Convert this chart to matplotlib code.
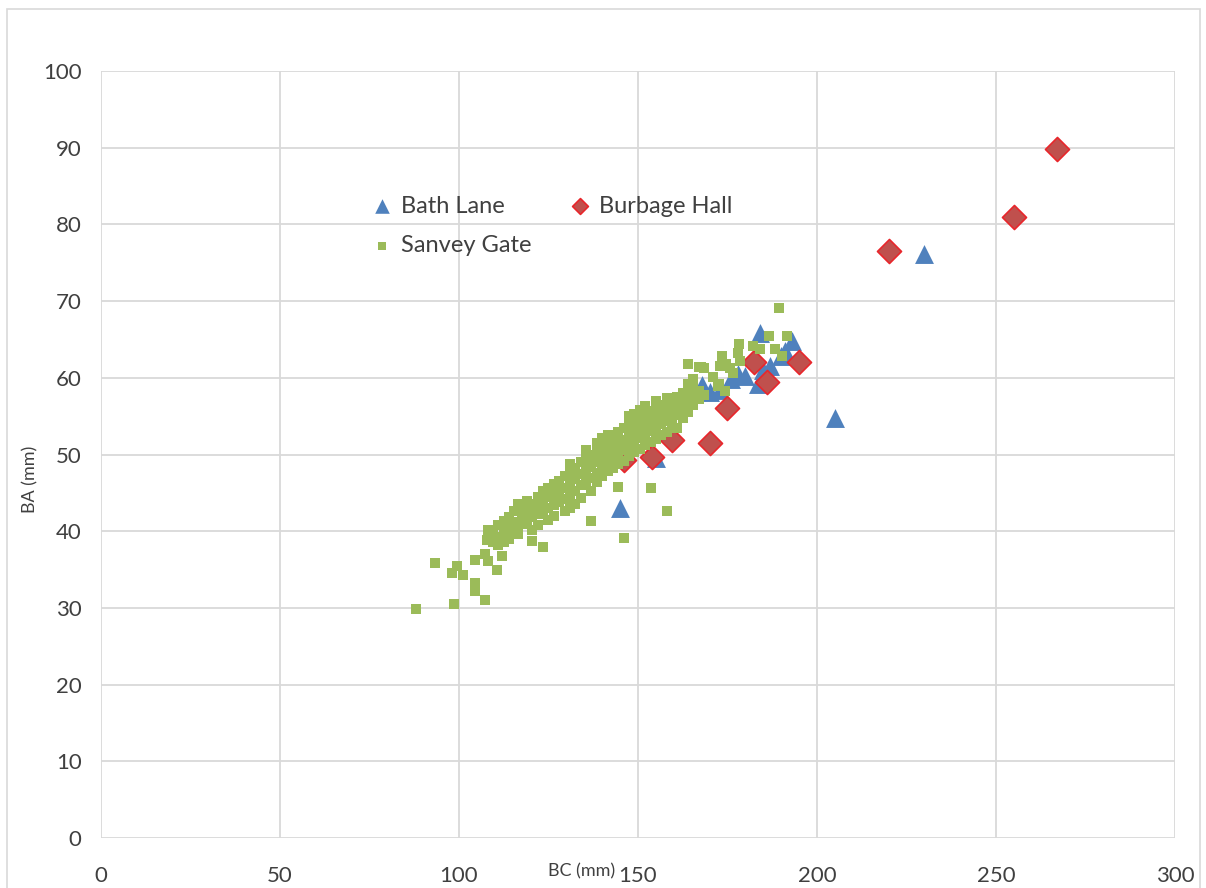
import numpy as np
import matplotlib.pyplot as plt
from matplotlib.patches import Rectangle

plt.rcParams['font.family'] = ['Lato', 'DejaVu Sans']

# Bath Lane (blue triangles)
bath_x = [230, 205, 145, 155, 184, 193, 190, 185, 180, 183.5, 176, 168, 170, 173, 178, 187, 191]
bath_y = [76.2, 54.8, 43.0, 49.5, 65.8, 64.8, 62.8, 61.0, 60.2, 59.2, 59.8, 59.0, 58.2, 58.4, 60.5, 61.5, 63.5]

# Burbage Hall (red diamonds)
burb_x = [267, 255, 220, 195, 182.5, 186, 175, 170, 159.5, 154, 146]
burb_y = [89.8, 81.0, 76.5, 62.0, 62.0, 59.5, 56.1, 51.5, 51.9, 49.7, 49.3]

# Sanvey Gate (green squares)
sanvey_x = [88, 98.5, 93.3, 98, 99.5, 101, 104.5, 104.5, 107.3, 104.5, 107.3, 108, 110.6, 112, 107.8,
            108, 108, 109.5, 109.5, 111, 111, 111, 112.5, 112.5, 112.5, 114, 114, 114,
            115.5, 115.5, 115.5, 116.5, 116.5, 117.5, 117.5, 117.5, 119, 119, 119,
            120.5, 120.5, 120.5, 120.5, 122, 122, 122, 122, 123.5, 123.5, 123.5, 123.5,
            125, 125, 125, 125, 126.5, 126.5, 126.5, 126.5, 128, 128, 128,
            129.5, 129.5, 129.5, 129.5, 131, 131, 131, 131, 131, 132.5, 132.5, 132.5, 132.5,
            134, 134, 134, 134, 135.5, 135.5, 135.5, 135.5, 137, 137, 137, 137, 137,
            138.5, 138.5, 138.5, 138.5, 138.5, 140, 140, 140, 140, 140,
            141.5, 141.5, 141.5, 141.5, 141.5, 143, 143, 143, 143,
            144.5, 144.5, 144.5, 144.5, 144.5, 146, 146, 146, 146, 146,
            147.5, 147.5, 147.5, 147.5, 147.5, 149, 149, 149, 149, 149,
            150.5, 150.5, 150.5, 150.5, 150.5, 152, 152, 152, 152, 152,
            153.5, 153.5, 153.5, 153.5, 153.5, 155, 155, 155, 155, 155,
            156.5, 156.5, 156.5, 156.5, 158, 158, 158, 158, 158, 158,
            159.5, 159.5, 159.5, 159.5, 161, 161, 161, 161, 162.5, 162.5, 162.5, 162.5,
            164, 164, 164, 164, 164, 165.5, 165.5, 165.5, 165.5, 167, 167, 167, 168.5, 168.5,
            171, 172.3, 172.6, 173, 173.5, 174.3, 174.6, 175.7, 176.6, 178, 178.2, 178.5,
            182, 184, 186.6, 188.3, 189.4, 190.2, 191.6, 165.4, 167.6,
            113, 118, 121, 127, 133, 136, 139, 142.5, 145, 148, 151, 154, 157, 160, 163]
sanvey_y = [29.8, 30.5, 35.8, 34.5, 35.5, 34.3, 33.3, 32.2, 31.0, 36.2, 37.0, 36.1, 35.0, 36.8, 38.9,
            39.0, 40.2, 38.6, 39.8, 39.3, 40.8, 38.2, 39.8, 41.3, 38.6, 40.1, 41.9, 39.0,
            40.5, 42.6, 41.2, 43.6, 39.6, 41.0, 42.2, 43.3, 41.4, 42.7, 44.0,
            40.2, 41.8, 43.1, 38.7, 42.2, 43.5, 44.5, 40.8, 42.6, 43.9, 38.0, 45.2,
            41.5, 43.0, 44.4, 45.6, 43.4, 44.9, 46.1, 42.0, 43.8, 45.2, 46.6,
            44.2, 45.7, 47.2, 42.6, 43.0, 44.8, 46.3, 47.9, 48.8, 45.3, 46.8, 48.3, 43.6,
            44.3, 46.0, 47.5, 49.0, 46.5, 47.9, 49.5, 50.6, 45.2, 47.0, 48.4, 50.0, 41.3,
            46.4, 47.6, 49.0, 50.5, 51.5, 47.2, 48.3, 49.6, 51.0, 52.1,
            47.8, 49.0, 50.3, 51.6, 52.6, 48.2, 49.5, 50.8, 52.2,
            48.7, 50.1, 51.4, 52.9, 45.8, 49.2, 50.6, 51.9, 53.4, 39.1,
            49.8, 51.1, 52.4, 53.8, 55.0, 50.3, 51.6, 53.0, 54.3, 55.3,
            50.7, 52.1, 53.5, 54.8, 55.8, 51.2, 52.6, 54.0, 55.3, 56.3,
            51.6, 53.1, 54.4, 55.7, 45.7, 52.0, 53.6, 54.9, 56.1, 57.0,
            52.6, 54.0, 55.3, 56.5, 53.0, 54.4, 55.7, 56.9, 57.4, 42.6,
            53.6, 54.8, 56.1, 57.2, 53.4, 55.2, 56.5, 57.5, 54.7, 55.8, 57.0, 58.0,
            55.5, 56.8, 57.9, 59.2, 61.8, 56.4, 57.6, 58.7, 59.8, 57.2, 58.3, 61.4, 57.8, 61.3,
            60.1, 58.9, 59.2, 61.5, 62.8, 58.3, 61.8, 61.3, 60.6, 63.2, 64.4, 62.2,
            64.1, 63.7, 65.4, 63.7, 69.1, 62.8, 65.4, 59.8, 61.4,
            40.6, 42.5, 43.6, 44.7, 47.4, 48.7, 49.8, 51.0, 51.6, 52.7, 53.3, 54.7, 55.8, 56.6, 57.0]

fig = plt.figure(figsize=(12.06, 8.88), dpi=100)
ax = fig.add_axes([0.0837, 0.0563, 0.8906, 0.8637])

bath = ax.scatter(bath_x, bath_y, marker='^', s=185, color='#4F81BD', linewidths=0,
                  label='Bath Lane', zorder=3)
burb = ax.scatter(burb_x, burb_y, marker='D', s=150, color='#C0504D', edgecolors='#E8262B',
                  linewidths=1.2, label='Burbage Hall', zorder=4)
sanv = ax.scatter(sanvey_x, sanvey_y, marker='s', s=62, color='#9BBB59', linewidths=0,
                  label='Sanvey Gate', zorder=5)

ax.set_xlim(0, 300)
ax.set_ylim(0, 100)
ax.set_xticks(np.arange(0, 301, 50))
ax.set_yticks(np.arange(0, 101, 10))
ax.grid(True, color='#D9D9D9', linewidth=1.3)
ax.set_axisbelow(True)
for s in ax.spines.values():
    s.set_visible(False)
ax.tick_params(length=0, labelsize=16, labelcolor='#404040')
ax.tick_params(axis='x', pad=20)
ax.tick_params(axis='y', pad=14)

ax.set_xlabel('BC (mm)', fontsize=13, color='#404040', ha='right')
ax.xaxis.set_label_coords(0.479, -0.033)
ax.set_ylabel('BA (mm)', fontsize=13, color='#404040')
ax.yaxis.set_label_coords(-0.058, 0.467)

# column-wise fill -> row 1: Bath Lane, Burbage Hall; row 2: Sanvey Gate
leg = ax.legend([bath, sanv, burb], ['Bath Lane', 'Sanvey Gate', 'Burbage Hall'],
                loc='upper left', bbox_to_anchor=(0.242, 0.850), borderaxespad=0, ncol=2,
                frameon=False, fontsize=17, handlelength=1.0, handletextpad=0.3,
                columnspacing=1.55, labelspacing=0.78, labelcolor='#404040')
for h, sz in zip(leg.legend_handles, [110, 32, 65]):
    h.set_sizes([sz])

fig.patches.append(Rectangle((0.006, -0.01), 0.989, 1.0, transform=fig.transFigure, fill=False,
                             edgecolor='#D9D9D9', linewidth=1.2))

plt.savefig('out.png', dpi=100)
